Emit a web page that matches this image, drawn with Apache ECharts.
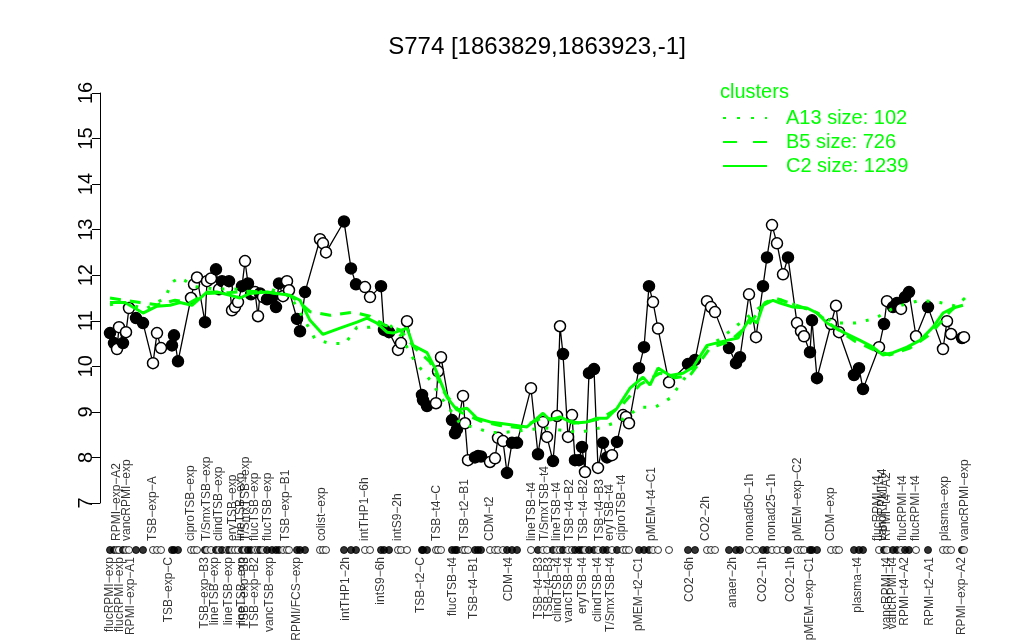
<!DOCTYPE html>
<html><head><meta charset="utf-8">
<script src="https://cdn.jsdelivr.net/npm/echarts@6/dist/echarts.min.js"></script>
<style>html,body{margin:0;padding:0;background:#fff}#c{width:1024px;height:640px}</style>
</head><body><div id="c"></div><script>
// sample positions (ordering along x), values, filled(1)/open(0)
const pos = [2.0,2.8,3.4,3.8,4.6,5.2,5.8,7.2,8.6,10.6,11.4,12.2,14.4,14.8,15.6,18.2,18.8,19.4,21.0,21.4,22.2,23.2,23.8,24.4,25.4,25.8,26.4,27.0,27.6,28.4,29.0,29.6,30.2,31.0,31.6,32.0,32.6,33.4,34.4,35.2,35.8,36.6,37.4,37.8,39.4,40.0,41.0,44.0,44.6,45.2,48.8,50.2,51.2,53.0,54.0,56.2,56.8,57.8,59.6,60.2,61.4,64.4,64.6,65.4,67.2,67.6,68.2,70.4,71.0,71.4,72.6,73.0,73.6,75.0,75.6,76.2,78.0,79.0,79.6,80.6,81.4,82.4,83.4,86.2,87.6,88.6,89.4,90.6,91.4,92.0,92.6,93.6,94.4,95.0,95.8,96.4,97.0,97.8,98.8,99.6,100.6,101.4,102.4,103.4,104.6,105.2,105.8,107.8,108.8,109.8,110.6,111.6,113.8,117.6,119.0,121.4,122.2,123.0,125.8,127.2,128.0,129.8,131.2,132.6,133.4,134.4,135.4,136.6,137.6,139.4,140.2,140.8,142.0,142.4,143.4,146.2,147.2,147.8,150.8,151.8,152.6,155.8,156.8,157.4,158.6,159.4,160.2,161.0,161.8,163.2,165.6,168.6,169.4,170.2,172.4,172.8];
const vals = [10.73,10.51,10.38,10.86,10.51,10.75,11.28,11.06,10.95,10.07,10.73,10.40,10.46,10.68,10.11,11.50,11.80,11.95,10.97,11.87,11.93,12.13,11.69,11.87,11.71,11.87,11.23,11.30,11.41,11.76,12.31,11.82,11.58,11.63,11.10,11.60,11.52,11.47,11.52,11.30,11.82,11.54,11.87,11.67,11.04,10.77,11.63,12.79,12.70,12.50,13.18,12.15,11.80,11.74,11.52,11.76,10.80,10.75,10.36,10.51,10.99,9.37,9.26,9.13,9.19,9.89,10.20,8.82,8.53,8.62,9.35,8.75,7.94,8.00,8.03,8.02,7.90,7.98,8.43,8.36,7.66,8.32,8.32,9.52,8.07,8.78,8.45,7.92,8.91,10.88,10.27,8.45,8.93,7.94,7.94,8.23,7.68,9.85,9.94,7.77,8.32,8.00,8.05,8.34,8.93,8.89,8.75,9.96,10.42,11.76,11.41,10.83,9.65,10.05,10.14,11.43,11.30,11.19,10.40,10.07,10.20,11.58,10.64,11.76,12.39,13.10,12.70,12.02,12.39,10.95,10.77,10.66,10.31,11.01,9.74,10.93,11.33,10.75,9.81,9.96,9.50,10.42,10.93,11.43,11.30,11.39,11.26,11.52,11.63,10.66,11.30,10.38,10.99,10.71,10.62,10.64];
const filled = [1,1,0,0,1,0,0,1,1, 0,0,0,1,1,1, 0,0,0, 1,0,0, 1,0,1,0,1, 0,0,0, 1,0,1,1, 0,0, 1,0,1,1,1,1, 0,0,0, 1,1,1, 0,0,0, 1,1,1, 0,0, 1,1,1, 0,0,0, 1,1,1, 0,0,0, 1,1,1, 0,0,0, 1,1,1, 0,0,0,0, 1,1,1, 0,1,0,0,1,0,0,1,0,0,1,1,1,0,1,1,0,1,1,0,1,0,0,0,1,1,1,0,0,0,1,1,0,0,0,1,1,1,0,0,1,1,0,0,0,1,0,0,0,1,1,1,0,0,0,1,1,1,0,1,0,1,1,0,1,1,0,1,0,0,0,1,0];

// cluster profile lines
const c2Pos = [2.0,5.0,8.6,11.4,14.0,16.0,18.4,21.4,23.4,26.0,28.0,30.0,33.4,35.4,38.0,40.0,42.0,44.6,48.0,51.4,53.4,55.4,57.4,58.6,61.4,62.6,65.4,67.0,69.4,71.4,73.4,75.4,78.0,81.4,85.4,88.6,90.0,92.0,94.6,97.4,99.4,101.4,103.4,106.0,108.6,110.0,111.6,114.0,116.6,118.6,121.4,125.4,127.6,130.0,131.4,132.6,134.6,136.0,138.6,141.4,143.4,145.4,148.6,152.0,154.6,156.6,158.6,161.4,164.0,166.6,168.6,170.6,172.6];
const c2Val = [11.40,11.40,11.17,11.32,11.34,11.40,11.34,11.63,11.63,11.56,11.50,11.60,11.63,11.60,11.56,11.45,11.01,10.70,10.84,10.97,11.06,10.95,10.75,10.73,10.84,10.46,10.30,9.96,9.32,9.04,9.08,8.86,8.78,8.73,8.67,8.97,8.82,8.89,8.75,8.78,8.86,8.86,9.08,9.52,9.76,9.59,9.96,9.80,9.85,9.98,10.46,10.57,10.62,11.06,10.95,11.34,11.45,11.39,11.30,11.28,11.17,10.95,10.75,10.57,10.42,10.25,10.30,10.42,10.57,10.86,11.17,11.28,11.34];
const b5Pos = [2.0,5.0,8.0,11.4,15.0,18.0,21.4,26.0,30.0,34.0,38.0,40.0,42.0,46.0,50.6,54.0,57.0,60.0,63.0,66.0,69.0,72.0,76.0,80.0,84.0,88.0,92.0,96.0,100.0,104.0,108.0,112.0,115.0,118.0,122.0,126.0,130.0,133.0,135.0,139.0,143.0,147.0,151.0,155.0,158.0,162.0,166.0,170.0,173.0];
const b5Val = [11.50,11.45,11.40,11.35,11.45,11.40,11.60,11.62,11.65,11.62,11.55,11.40,11.20,11.12,11.19,11.10,10.90,10.80,10.40,10.10,9.40,9.00,8.80,8.70,8.65,8.85,8.85,8.75,8.85,9.10,9.60,9.85,9.75,9.80,10.40,10.55,10.95,11.40,11.50,11.35,11.20,10.85,10.55,10.35,10.25,10.40,10.70,11.20,11.50];
const a13Pos = [2.0,5.0,9.0,13.0,14.4,16.0,19.0,23.0,27.0,31.0,34.0,38.0,41.0,43.0,46.0,49.0,51.4,54.0,57.0,60.0,63.0,66.0,69.0,72.0,75.0,78.0,81.0,85.0,89.0,92.0,96.0,100.0,104.0,108.0,111.0,114.0,118.0,121.0,124.0,128.0,132.0,135.0,139.0,143.0,147.0,151.0,155.0,159.0,164.0,168.0,172.0];
const a13Val = [11.35,11.40,11.25,11.50,11.85,11.95,11.75,11.70,11.70,11.60,11.70,11.55,11.00,10.60,10.50,10.50,10.86,10.86,11.00,10.70,10.10,9.70,9.20,8.75,8.65,8.55,8.55,8.60,8.65,8.60,8.55,8.65,8.80,9.10,9.10,9.30,9.90,10.40,10.60,10.95,11.30,11.50,11.35,11.20,10.95,10.95,11.05,11.30,11.45,11.40,11.30];

// sample labels (above and below the rug)
const topNames = ['RPMI\u2212exp\u2212A2','vancRPMI\u2212exp','TSB\u2212exp\u2212A','ciproTSB\u2212exp','T/SmxTSB\u2212exp','clindTSB\u2212exp','eryTSB\u2212exp','lineTSB\u2212exp','T/SmxTSB\u2212exp','flucTSB\u2212exp','flucTSB\u2212exp','TSB\u2212exp\u2212B1','colist\u2212exp','intTHP1\u22126h','intS9\u22122h','TSB\u2212t4\u2212C','TSB\u2212t2\u2212B1','CDM\u2212t2','lineTSB\u2212t4','T/SmxTSB\u2212t4','lineTSB\u2212t4','TSB\u2212t4\u2212B2','TSB\u2212t4\u2212B2','TSB\u2212t4\u2212B3','eryTSB\u2212t4','ciproTSB\u2212t4','pMEM\u2212t4\u2212C1','CO2\u22122h','nonad50\u22121h','nonad25\u22121h','pMEM\u2212exp\u2212C2','CDM\u2212exp','flucRPMI\u2212t4','vancRPMI\u2212t4','RPMI\u2212t4\u2212A2','flucRPMI\u2212t4','flucRPMI\u2212t4','plasma\u2212exp','vancRPMI\u2212exp'];
const topPos = [3.4,5.4,10.6,18.2,21.4,23.8,26.6,28.2,29.2,31.0,33.6,37.2,44.4,53.0,59.6,67.4,73.0,78.0,86.4,89.0,91.4,94.0,96.8,100.0,102.0,104.4,110.4,121.2,130.0,134.4,139.6,146.2,155.6,156.6,157.4,160.6,163.2,169.0,173.0];
const botNames = ['flucRPMI\u2212exp','flucRPMI\u2212exp','RPMI\u2212exp\u2212A1','TSB\u2212exp\u2212C','TSB\u2212exp\u2212B3','lineTSB\u2212exp','lineTSB\u2212exp','lineTSB\u2212exp','TSB\u2212exp\u2212B3','TSB\u2212exp\u2212B2','vancTSB\u2212exp','RPMI/FCS\u2212exp','intTHP1\u22122h','intS9\u22126h','TSB\u2212t2\u2212C','flucTSB\u2212t4','TSB\u2212t4\u2212B1','CDM\u2212t4','TSB\u2212t4\u2212B3','TSB\u2212t4\u2212B3','clindTSB\u2212t4','vancTSB\u2212t4','eryTSB\u2212t4','clindTSB\u2212t4','T/SmxTSB\u2212t4','pMEM\u2212t2\u2212C1','CO2\u22126h','anaer\u22122h','CO2\u22121h','CO2\u22121h','pMEM\u2212exp\u2212C1','plasma\u2212t4','vancRPMI\u2212t4','vancRPMI\u2212t4','RPMI\u2212t4\u2212A2','RPMI\u2212t2\u2212A1','RPMI\u2212exp\u2212A2'];
const botPos = [2.0,4.0,6.2,13.8,21.0,23.0,25.8,28.4,29.0,31.0,34.0,39.4,49.2,56.2,64.2,70.6,74.8,81.8,87.8,89.8,91.6,93.8,96.6,99.6,102.2,107.8,118.0,126.6,132.6,138.2,142.0,151.6,157.4,158.6,161.0,166.0,172.4];

const yTicks = [7,8,9,10,11,12,13,14,15,16];
const clusterNames = ['A13 size: 102','B5 size: 726','C2 size: 1239'];

const FONT = '"Liberation Sans", Arial, Helvetica, sans-serif';
const GREEN = '#00ff00';
const RUG_Y = 90, TOP_Y = 81, BOT_Y = 97;
const DOT = [3, 10], DASH = [11, 9];

const zip = (a, b) => a.map((x, i) => [x, b[i]]);
const pointData = pos.map((p, i) => ({ value: [p, vals[i]], itemStyle: { color: filled[i] ? '#000' : '#fff' } }));
const rugData = pos.map((p, i) => ({ value: [p, RUG_Y], itemStyle: { color: filled[i] ? '#000' : '#fff' } }));
const lblStyle = { show: true, rotate: 90, fontFamily: FONT, fontSize: 12, color: '#000', position: [0, 0], verticalAlign: 'middle', formatter: p => p.name };
const topData = topPos.map((p, i) => ({ name: topNames[i], value: [p, TOP_Y], label: Object.assign({}, lblStyle, { align: 'left' }) }));
const botData = botPos.map((p, i) => ({ name: botNames[i], value: [p, BOT_Y], label: Object.assign({}, lblStyle, { align: 'right' }) }));

const chart = echarts.init(document.getElementById('c'), null, { renderer: 'canvas' });
chart.setOption({
  animation: false,
  backgroundColor: '#fff',
  title: [
    { text: 'S774 [1863829,1863923,-1]', left: 537, top: 35, textAlign: 'center', padding: 0,
      textStyle: { fontFamily: FONT, fontSize: 24, fontWeight: 'normal', color: '#000' } },
    { text: 'clusters', left: 720, top: 82, padding: 0,
      textStyle: { fontFamily: FONT, fontSize: 20, fontWeight: 'normal', color: GREEN } }
  ],
  legend: {
    orient: 'vertical', left: 722, top: 108, padding: 0, itemWidth: 44, itemHeight: 14, itemGap: 4,
    data: [
      { name: clusterNames[0], lineStyle: { type: [3, 11] } },
      { name: clusterNames[1], lineStyle: { type: [14, 16] } },
      { name: clusterNames[2] }
    ],
    selectedMode: false,
    itemStyle: { color: 'rgba(0,0,0,0)', borderColor: 'rgba(0,0,0,0)', borderWidth: 0, opacity: 0 },
    textStyle: { fontFamily: FONT, fontSize: 20, color: GREEN, padding: [0, 0, 0, 14] }
  },
  grid: [
    { left: 100, right: 49, top: 93, height: 410 },
    { left: 100, right: 49, top: 460, height: 180 }
  ],
  xAxis: [
    { type: 'value', min: 0, max: 175, show: false, gridIndex: 0 },
    { type: 'value', min: 0, max: 175, show: false, gridIndex: 1 }
  ],
  yAxis: [
    { type: 'value', min: yTicks[0], max: yTicks[yTicks.length - 1], interval: 1, gridIndex: 0,
      axisLine: { show: true, lineStyle: { color: '#000', width: 1 } },
      axisTick: { show: true, length: 8, lineStyle: { color: '#000' } },
      axisLabel: { rotate: 90, fontSize: 20, color: '#000', fontFamily: FONT, margin: 4 },
      splitLine: { show: false } },
    { type: 'value', min: 0, max: 180, inverse: true, show: false, gridIndex: 1 }
  ],
  series: [
    { type: 'line', name: 'samples', data: pointData, symbol: 'circle', symbolSize: 11, showAllSymbol: true,
      lineStyle: { color: '#000', width: 1.3 }, itemStyle: { borderColor: '#000', borderWidth: 1.5 }, z: 2, silent: true },
    { type: 'line', name: clusterNames[0], data: zip(a13Pos, a13Val), symbol: 'none', z: 3,
      lineStyle: { color: GREEN, width: 3, type: DOT }, itemStyle: { color: GREEN } },
    { type: 'line', name: clusterNames[1], data: zip(b5Pos, b5Val), symbol: 'none', z: 3,
      lineStyle: { color: GREEN, width: 3, type: DASH }, itemStyle: { color: GREEN } },
    { type: 'line', name: clusterNames[2], data: zip(c2Pos, c2Val), symbol: 'none', z: 3,
      lineStyle: { color: GREEN, width: 3 }, itemStyle: { color: GREEN } },
    { type: 'scatter', name: 'rug', xAxisIndex: 1, yAxisIndex: 1, data: rugData, symbolSize: 7,
      itemStyle: { borderColor: '#000', borderWidth: 1 }, silent: true },
    { type: 'scatter', name: 'topLabels', xAxisIndex: 1, yAxisIndex: 1, data: topData, symbolSize: 0, silent: true },
    { type: 'scatter', name: 'botLabels', xAxisIndex: 1, yAxisIndex: 1, data: botData, symbolSize: 0, silent: true }
  ]
});
</script></body></html>
